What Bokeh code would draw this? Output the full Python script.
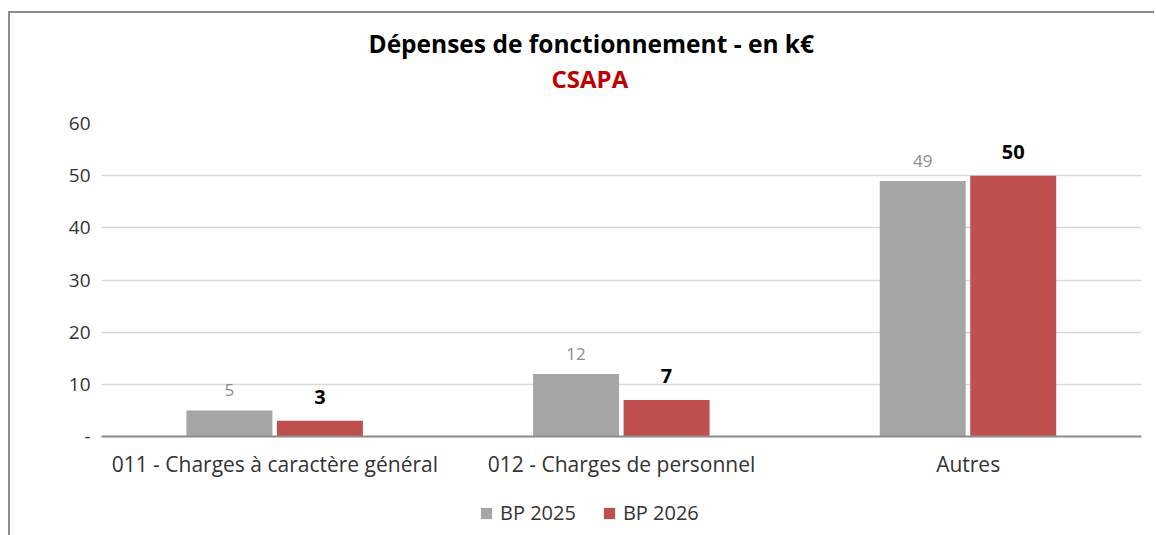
from bokeh.plotting import figure
from bokeh.layouts import column
from bokeh.models import (ColumnDataSource, FactorRange, Range1d, LabelSet, Title,
                          Legend, LegendItem, FixedTicker)
from bokeh.transform import dodge
from bokeh.core.properties import value
from bokeh.embed import file_html
from bokeh.resources import INLINE

categories = ["011 - Charges à caractère général", "012 - Charges de personnel", "Autres"]
bp2025 = [5, 12, 49]
bp2026 = [3, 7, 50]
series_names = ["BP 2025", "BP 2026"]
title_text = "Dépenses de fonctionnement - en k€"
subtitle_text = "CSAPA"
y_ticks = [0, 10, 20, 30, 40, 50, 60]
y_tick_labels = ["-", "10", "20", "30", "40", "50", "60"]

GRAY = "#a5a5a5"
RED = "#c0504d"
FONT = "Open Sans"

src = ColumnDataSource(dict(
    cat=categories, v25=bp2025, v26=bp2026,
    l25=[str(v) for v in bp2025], l26=[str(v) for v in bp2026],
))

p = figure(width=1144, height=480, x_range=FactorRange(*categories),
           y_range=Range1d(0, 60), output_backend="svg", toolbar_location=None,
           min_border_left=91, min_border_right=13, min_border_top=110,
           min_border_bottom=57, title=None)
p.outline_line_color = None
p.background_fill_color = "white"
p.border_fill_color = "white"

p.vbar(x=dodge("cat", -0.131, range=p.x_range), top="v25", width=0.248,
       source=src, fill_color=GRAY, line_color=None)
p.vbar(x=dodge("cat", 0.130, range=p.x_range), top="v26", width=0.248,
       source=src, fill_color=RED, line_color=None)

p.add_layout(LabelSet(x=dodge("cat", -0.131, range=p.x_range), y="v25", text="l25",
                      source=src, text_align="center", text_baseline="bottom",
                      y_offset=14, text_font=value(FONT), text_font_size="17px",
                      text_color="#8c8c8c"))
p.add_layout(LabelSet(x=dodge("cat", 0.130, range=p.x_range), y="v26", text="l26",
                      source=src, text_align="center", text_baseline="bottom",
                      y_offset=17, text_font=value(FONT), text_font_size="20px",
                      text_font_style="bold", text_color="#000000"))

# titles (added nearest-first): spacer, subtitle, main title
p.add_layout(Title(text=" ", standoff=0, text_font=FONT, text_font_size="19.5px"), "above")
p.add_layout(Title(text=subtitle_text, align="left", offset=450, standoff=0,
                   text_font=FONT, text_font_size="24px", text_font_style="bold",
                   text_color="#c00000"), "above")
p.add_layout(Title(text=title_text, align="left", offset=267, standoff=0,
                   text_font=FONT, text_font_size="24.5px", text_font_style="bold",
                   text_color="#000000"), "above")

# axes
p.xaxis.axis_line_color = "#8c8c8c"
p.xaxis.axis_line_width = 2
p.xaxis.major_tick_line_color = None
p.xaxis.minor_tick_line_color = None
p.xaxis.major_tick_out = 0
p.xaxis.major_label_text_font = FONT
p.xaxis.major_label_text_font_size = "21px"
p.xaxis.major_label_text_color = "#333333"
p.xaxis.major_label_standoff = 13

p.yaxis.axis_line_color = None
p.yaxis.major_tick_line_color = None
p.yaxis.minor_tick_line_color = None
p.yaxis.major_tick_out = 0
p.yaxis.ticker = FixedTicker(ticks=y_ticks)
p.yaxis.major_label_overrides = {t: l for t, l in zip(y_ticks, y_tick_labels)}
p.yaxis.major_label_text_font = FONT
p.yaxis.major_label_text_font_size = "19px"
p.yaxis.major_label_text_color = "#333333"
p.yaxis.major_label_standoff = 11

p.xgrid.grid_line_color = None
p.ygrid.grid_line_color = "#d9d9d9"
p.ygrid.grid_line_width = 1.5

# legend strip (zero-size proxy glyphs carry the series colours)
lf = figure(width=1144, height=42, x_range=Range1d(0, 1), y_range=Range1d(0, 1),
            output_backend="svg", toolbar_location=None, x_axis_type=None,
            y_axis_type=None, min_border=0, title=None)
lf.outline_line_color = None
lf.xgrid.grid_line_color = None
lf.ygrid.grid_line_color = None
g1 = lf.vbar(x=[0], top=[0], width=0, fill_color=GRAY, line_color=None)
g2 = lf.vbar(x=[0], top=[0], width=0, fill_color=RED, line_color=None)
legend = Legend(items=[LegendItem(label=series_names[0], renderers=[g1]),
                       LegendItem(label=series_names[1], renderers=[g2])],
                orientation="horizontal", location=(378, 9),
                glyph_width=14, glyph_height=14, label_standoff=7, spacing=26,
                padding=0, margin=0, border_line_color=None,
                background_fill_alpha=0, label_text_font=FONT,
                label_text_font_size="20px", label_text_color="#333333")
lf.add_layout(legend)

layout = column(p, lf, spacing=0,
                styles={"border-left": "2px solid #8c8c8c",
                        "border-top": "2px solid #8c8c8c",
                        "margin-top": "11px", "margin-left": "8px"})

open("out.html", "w").write(file_html(layout, INLINE))
